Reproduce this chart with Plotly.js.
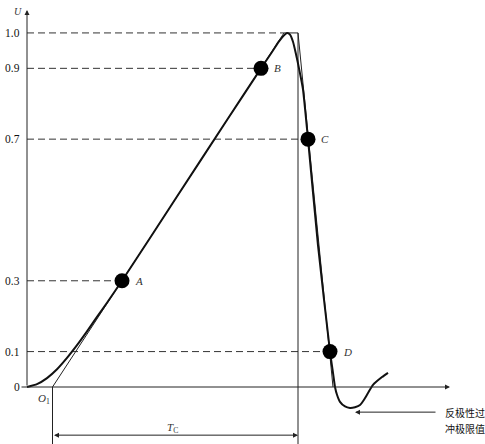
<!DOCTYPE html>
<html><head><meta charset="utf-8">
<script src="https://cdn.plot.ly/plotly-3.0.1.min.js"></script>
<style>html,body{margin:0;padding:0;background:#fff}#c{width:485px;height:444px}</style>
</head><body><div id="c"></div>
<script>
// Main impulse curve (time units arbitrary, U normalized)
var curveX = [0, 0.1, 0.2, 0.3, 0.4, 0.5, 0.6, 0.7, 0.8, 0.95, 1.5, 2.0, 2.34, 2.45, 2.52, 2.57, 2.60, 2.63, 2.66, 2.69, 2.72, 2.76, 2.81, 2.91, 3.03, 3.06, 3.08, 3.10, 3.13, 3.18, 3.23, 3.28, 3.33, 3.37, 3.41, 3.46, 3.55, 3.61];
var curveY = [0, 0.008, 0.025, 0.05, 0.082, 0.118, 0.157, 0.198, 0.238, 0.3, 0.538, 0.754, 0.9, 0.946, 0.976, 0.993, 1.0, 0.995, 0.975, 0.94, 0.9, 0.84, 0.7, 0.4, 0.1, 0.04, 0.0, -0.022, -0.042, -0.055, -0.059, -0.057, -0.051, -0.036, -0.017, 0.006, 0.028, 0.040];
// Characteristic points
var pointNames = ["A", "B", "C", "D"];
var pointX = [0.95, 2.34, 2.81, 3.03];
var pointY = [0.3, 0.9, 0.7, 0.1];
// Level lines
var levelVals = [1.0, 0.9, 0.7, 0.3, 0.1, 0];
var levelText = ["1.0", "0.9", "0.7", "0.3", "0.1", "0"];
var levelEnd = [2.57, 2.34, 2.81, 0.95, 3.03];
// Construction lines
var frontX = [0.255, 2.57, 2.71];
var frontY = [0, 1.0, 1.0];
var tailX = [2.71, 3.06];
var tailY = [1.0, 0];
var O1 = 0.255, Tend = 2.71;
var noteLines = ["反极性过", "冲极限值"];

var serif = "Liberation Serif, Times New Roman, serif";
var traces = [];
for (var i = 0; i < levelEnd.length; i++) {
  traces.push({x: [0, levelEnd[i]], y: [levelVals[i], levelVals[i]], mode: "lines",
    line: {color: "#333", width: 1, dash: "7px,4px"}, hoverinfo: "skip"});
}
traces.push({x: frontX, y: frontY, mode: "lines", line: {color: "#222", width: 1}, hoverinfo: "skip"});
traces.push({x: tailX, y: tailY, mode: "lines", line: {color: "#222", width: 1}, hoverinfo: "skip"});
traces.push({x: [O1, O1], y: [0, -0.161], mode: "lines", line: {color: "#222", width: 1}, hoverinfo: "skip"});
traces.push({x: [Tend, Tend], y: [1.0, -0.161], mode: "lines", line: {color: "#222", width: 1}, hoverinfo: "skip"});
traces.push({x: curveX, y: curveY, mode: "lines", line: {color: "#111", width: 2, shape: "spline", smoothing: 0.5}, hoverinfo: "skip"});
traces.push({x: pointX, y: pointY, mode: "markers", marker: {color: "#000", size: 15}, hoverinfo: "skip"});

var ann = [];
ann.push({x: 4.23, y: 0, ax: -0.07, ay: 0, axref: "x", ayref: "y", xref: "x", yref: "y", text: "", showarrow: true, arrowhead: 2, arrowsize: 1, arrowwidth: 1, arrowcolor: "#222"});
ann.push({x: 0, y: 1.065, ax: 0, ay: 0, axref: "x", ayref: "y", xref: "x", yref: "y", text: "", showarrow: true, arrowhead: 2, arrowsize: 1, arrowwidth: 1, arrowcolor: "#222"});
ann.push({x: Tend, y: -0.136, ax: O1, ay: -0.136, axref: "x", ayref: "y", xref: "x", yref: "y", text: "", showarrow: true, arrowhead: 2, startarrowhead: 2, arrowside: "end+start", arrowsize: 1, arrowwidth: 1, arrowcolor: "#222"});
ann.push({x: 3.28, y: -0.071, ax: 4.10, ay: -0.071, axref: "x", ayref: "y", xref: "x", yref: "y", text: "", showarrow: true, arrowhead: 2, arrowsize: 1, arrowwidth: 1, arrowcolor: "#222"});
for (var j = 0; j < levelVals.length; j++) {
  ann.push({x: -0.05, y: levelVals[j], xref: "x", yref: "y", text: levelText[j], showarrow: false, xanchor: "right", yanchor: "middle", font: {family: serif, size: 11.5, color: "#111"}});
}
for (var k = 0; k < pointNames.length; k++) {
  ann.push({x: pointX[k] + 0.11, y: pointY[k], xref: "x", yref: "y", text: "<i>" + pointNames[k] + "</i>", showarrow: false, xanchor: "left", yanchor: "middle", font: {family: serif, size: 11, color: "#333"}});
}
ann.push({x: -0.09, y: 1.06, xref: "x", yref: "y", text: "<i>U</i>", showarrow: false, font: {family: serif, size: 10, color: "#333"}});
ann.push({x: 0.17, y: -0.035, xref: "x", yref: "y", text: "<i>O</i><sub>1</sub>", showarrow: false, font: {family: serif, size: 11, color: "#333"}});
ann.push({x: 1.45, y: -0.115, xref: "x", yref: "y", text: "<i>T</i><sub>C</sub>", showarrow: false, font: {family: serif, size: 11, color: "#333"}});
ann.push({x: 4.155, y: -0.071, xref: "x", yref: "y", text: noteLines[0], showarrow: false, xanchor: "left", yanchor: "middle", font: {family: "Noto Sans CJK SC", size: 10, color: "#111"}});
ann.push({x: 4.155, y: -0.116, xref: "x", yref: "y", text: noteLines[1], showarrow: false, xanchor: "left", yanchor: "middle", font: {family: "Noto Sans CJK SC", size: 10, color: "#111"}});

var layout = {
  width: 485, height: 444,
  margin: {l: 0, r: 0, t: 0, b: 0},
  paper_bgcolor: "#fff", plot_bgcolor: "#fff",
  showlegend: false,
  xaxis: {range: [-0.27, 4.58], visible: false, fixedrange: true},
  yaxis: {range: [-0.161, 1.093], visible: false, fixedrange: true},
  annotations: ann
};
Plotly.newPlot("c", traces, layout, {staticPlot: true, displayModeBar: false});
</script></body></html>
